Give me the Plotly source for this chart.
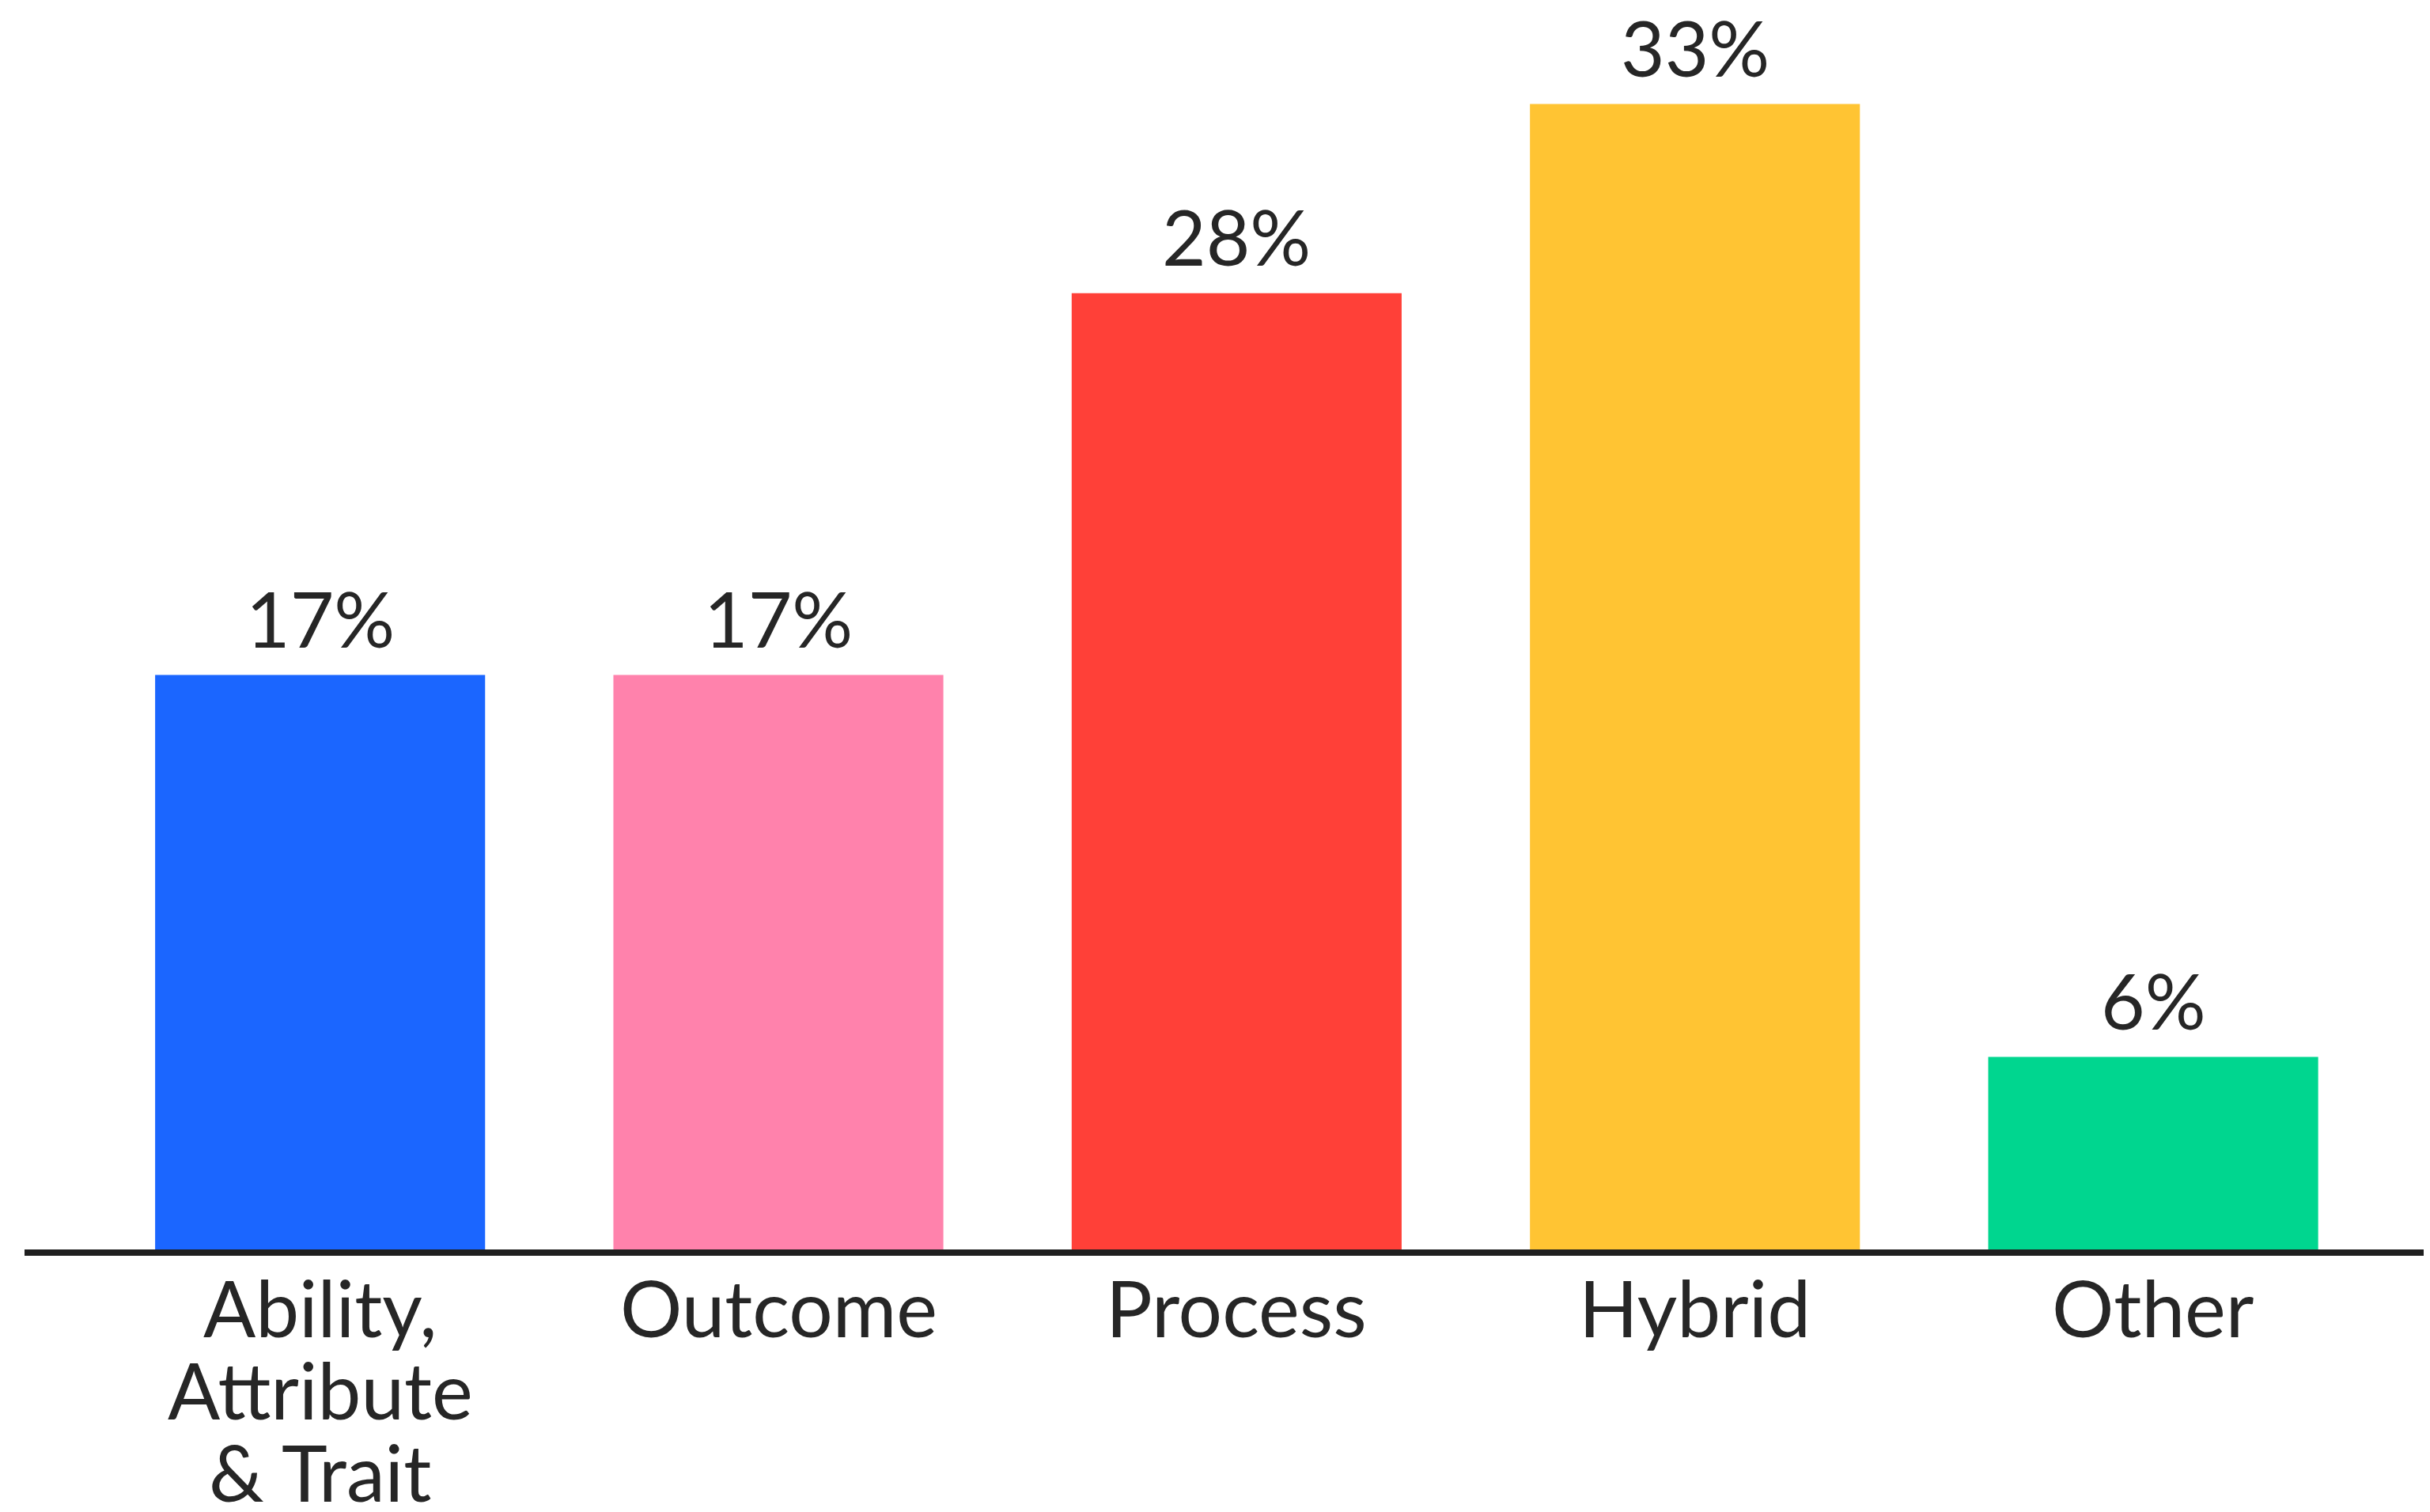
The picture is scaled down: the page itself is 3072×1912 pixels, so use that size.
import plotly.graph_objects as go

categories = ["Ability,<br>Attribute<br>& Trait", "Outcome", "Process", "Hybrid", "Other"]
values = [16.7, 16.7, 27.8, 33.3, 5.6]
colors = ["#1B66FF", "#FF82AC", "#FF4038", "#FFC433", "#00D68F"]

FONT = "Lato"
TXT = "#262626"
FS = 98

fig = go.Figure()
fig.add_trace(go.Bar(
    x=list(range(len(categories))),
    y=values,
    marker=dict(color=colors, line=dict(width=0)),
    width=0.72,
    cliponaxis=False,
    hoverinfo="skip",
))

# value labels above bars
for i, v in enumerate(values):
    fig.add_annotation(
        x=i, y=v, xref="x", yref="y",
        text=f"{v:.0f}%", showarrow=False,
        xanchor="center", yanchor="middle", yshift=72,
        font=dict(family=FONT, size=96, color=TXT),
    )

# category labels, one annotation per line for tight line spacing
for i, cat in enumerate(categories):
    for j, line in enumerate(cat.split("<br>")):
        fig.add_annotation(
            x=i, y=0, xref="x", yref="y",
            text=line, showarrow=False,
            xanchor="center", yanchor="middle",
            yshift=-73 - 104 * j,
            font=dict(family=FONT, size=FS, color=TXT),
        )

fig.update_layout(
    width=3064, height=1904,
    margin=dict(l=23, r=0, t=6, b=332),
    paper_bgcolor="white", plot_bgcolor="white",
    showlegend=False,
    xaxis=dict(range=[-0.645, 4.604], showticklabels=False, showgrid=False,
               zeroline=False, showline=True, linewidth=8, linecolor="#1f1f1f",
               ticks="", fixedrange=True),
    yaxis=dict(range=[0, 36], visible=False, showgrid=False, zeroline=False,
               fixedrange=True),
)

fig.write_html("out.html")
